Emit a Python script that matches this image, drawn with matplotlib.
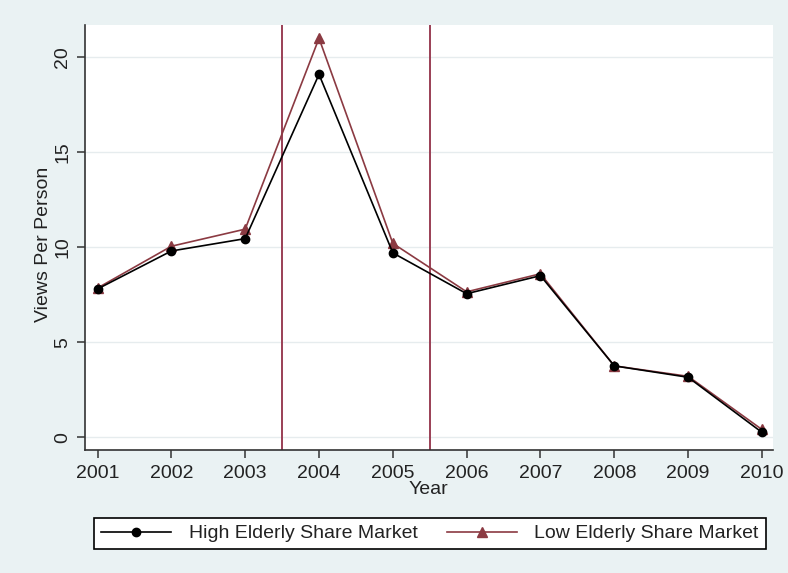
import matplotlib
matplotlib.use("Agg")
import matplotlib.pyplot as plt

plt.rcParams['font.family'] = ['Liberation Sans', 'DejaVu Sans']

years = [2001, 2002, 2003, 2004, 2005, 2006, 2007, 2008, 2009, 2010]
high_elderly = [7.8, 9.8, 10.45, 19.1, 9.7, 7.55, 8.5, 3.75, 3.15, 0.25]
low_elderly = [7.85, 10.05, 10.95, 21.0, 10.2, 7.65, 8.6, 3.75, 3.2, 0.4]
event_lines = [2003.5, 2005.5]
yticks = [0, 5, 10, 15, 20]

bg = '#eaf2f3'
maroon = '#8b3a42'
vline_color = '#9a3f55'

fig = plt.figure(figsize=(7.88, 5.73), dpi=100, facecolor=bg)
ax = fig.add_axes([85 / 788, 1 - 450 / 573, (773 - 85) / 788, (450 - 25) / 573])
ax.set_facecolor('white')

for yv in yticks:
    ax.axhline(yv, color='#e6ecee', lw=1.0, zorder=0)
for xv in event_lines:
    ax.axvline(xv, color=vline_color, lw=1.4, zorder=1)

ax.plot(years, high_elderly, color='black', lw=1.2, marker='o', ms=6,
        label='High Elderly Share Market', zorder=3)
ax.plot(years, low_elderly, color=maroon, lw=1.2, marker='^', ms=7,
        label='Low Elderly Share Market', zorder=2)

ax.set_xlim(2000.83, 2010.15)
ax.set_ylim(-0.68, 21.7)
ax.set_xticks(years)
ax.set_yticks(yticks)
ax.set_yticklabels([str(v) for v in yticks], rotation=90, va='center')

for s in ['top', 'right']:
    ax.spines[s].set_visible(False)
for s in ['left', 'bottom']:
    ax.spines[s].set_color('#333333')
    ax.spines[s].set_linewidth(1.2)

ax.tick_params(axis='both', direction='out', length=6, width=1.1,
               color='#333333', labelsize=14, labelcolor='#222222')
ax.tick_params(axis='y', pad=4)
ax.tick_params(axis='x', pad=5)

ax.set_ylabel('Views Per Person', fontsize=14, color='#222222')
ax.yaxis.set_label_coords(-0.048, 0.485)
fig.text(428 / 788, 1 - 490 / 573, 'Year', fontsize=14, color='#222222',
         ha='center', va='center')

leg = fig.legend(loc='center', bbox_to_anchor=(430 / 788, 1 - 533.5 / 573),
                 ncol=2, fontsize=14, frameon=True, fancybox=False,
                 edgecolor='black', facecolor='white', framealpha=1,
                 handlelength=3.6, columnspacing=1.5, handletextpad=0.9,
                 borderpad=0.35, borderaxespad=0)
leg.get_frame().set_linewidth(1.2)
for t in leg.get_texts():
    t.set_color('#222222')

fig.savefig('out.png', dpi=100, facecolor=bg)
